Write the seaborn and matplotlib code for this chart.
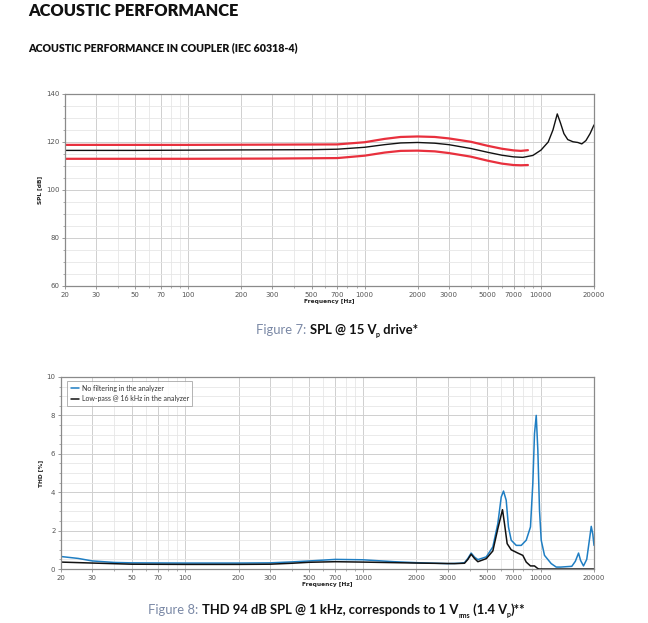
import matplotlib
matplotlib.use("Agg")
import matplotlib.pyplot as plt
import matplotlib.ticker as mticker
import seaborn as sns
import pandas as pd

# ---------------- data ----------------
spl_nom_f = [20, 50, 100, 200, 500, 700, 1000, 1300, 1600, 2000, 2500, 3000, 4000, 5000, 6000, 7000,
             7900, 9000, 10000, 11000, 11700, 12380, 12900, 13500, 14200, 15200, 16200, 17050, 18000,
             19000, 20000]
spl_nom = [116.5, 116.5, 116.6, 116.7, 116.8, 117.0, 117.8, 118.9, 119.6, 119.8, 119.5, 118.9, 117.3,
           115.7, 114.5, 113.8, 113.6, 114.4, 116.6, 120.0, 125.0, 131.7, 128.0, 123.5, 121.0, 120.1,
           119.8, 119.2, 120.6, 123.5, 127.1]
spl_hi_f = [20, 100, 300, 700, 1000, 1300, 1600, 2000, 2500, 3000, 4000, 5000, 6000, 7000, 7700, 8440]
spl_hi = [118.8, 118.8, 118.9, 119.0, 119.9, 121.3, 122.1, 122.3, 122.1, 121.5, 120.1, 118.4, 117.2,
          116.5, 116.3, 116.6]
spl_lo_f = [20, 100, 300, 700, 1000, 1300, 1600, 2000, 2500, 3000, 4000, 5000, 6000, 7000, 7700, 8440]
spl_lo = [113.0, 113.0, 113.1, 113.3, 114.3, 115.6, 116.3, 116.4, 116.1, 115.4, 113.9, 112.2, 111.0,
          110.4, 110.3, 110.4]

thd_blue_f = [20, 25, 30, 40, 50, 100, 200, 300, 400, 500, 700, 1000, 1500, 2000, 3000, 3500, 3735,
              3900, 4070, 4250, 4440, 4950, 5390, 5750, 6010, 6190, 6410, 6600, 6840, 7300, 7790, 8310,
              8780, 9050, 9250, 9460, 9660, 9870, 10090, 10530, 11490, 12260, 13000, 15000, 15700,
              16370, 16800, 17450, 18200, 18900, 19300, 19700, 20000]
thd_blue = [0.65, 0.55, 0.42, 0.34, 0.32, 0.31, 0.31, 0.32, 0.37, 0.42, 0.50, 0.48, 0.38, 0.33, 0.28,
            0.30, 0.33, 0.55, 0.83, 0.62, 0.49, 0.63, 1.15, 2.36, 3.75, 4.06, 3.58, 2.19, 1.50, 1.23,
            1.23, 1.50, 2.19, 4.45, 7.05, 8.00, 6.18, 3.06, 1.50, 0.71, 0.28, 0.10, 0.10, 0.14, 0.40,
            0.83, 0.45, 0.16, 0.50, 1.60, 2.22, 1.80, 1.23]
thd_black_f = [20, 30, 50, 100, 200, 300, 400, 500, 700, 1000, 2000, 3280, 3735, 3900, 4070, 4250,
               4440, 4950, 5390, 5750, 6110, 6270, 6490, 6840, 7450, 7950, 8310, 8780, 9250, 9660,
               9870, 20000]
thd_black = [0.36, 0.31, 0.25, 0.24, 0.24, 0.25, 0.30, 0.35, 0.38, 0.36, 0.31, 0.28, 0.30, 0.50, 0.77,
             0.55, 0.38, 0.54, 0.94, 2.10, 3.09, 2.36, 1.32, 1.00, 0.83, 0.71, 0.36, 0.16, 0.16, 0.02,
             0.0, 0.0]

xtick_vals = [20, 30, 50, 70, 100, 200, 300, 500, 700, 1000, 2000, 3000, 5000, 7000, 10000, 20000]
xgrid_minor = [40, 60, 80, 90, 400, 600, 800, 900, 4000, 6000, 8000, 9000]

legend_labels = ["No filtering in the analyzer", "Low-pass @ 16 kHz in the analyzer"]

RED = "#e8303d"
BLUE = "#1f7ec3"
BLACK = "#111111"

# ---------------- figure ----------------
sns.set_theme(style="white")
plt.rcParams["font.family"] = ["Lato", "DejaVu Sans"]

fig = plt.figure(figsize=(6.48, 6.23), dpi=100)
W, H = 648, 623


def ax_rect(l, t, r, b):
    return [l / W, 1 - b / H, (r - l) / W, (b - t) / H]


ax1 = fig.add_axes(ax_rect(65, 94, 594, 286))
ax2 = fig.add_axes(ax_rect(61, 377, 594, 569))


def style_axis(ax, ylim, ymajor, yminor, ylabel):
    ax.set_xscale("log")
    ax.set_xlim(20, 20000)
    ax.set_ylim(*ylim)
    ax.xaxis.set_major_locator(mticker.FixedLocator(xtick_vals))
    ax.xaxis.set_major_formatter(mticker.FixedFormatter([str(v) for v in xtick_vals]))
    ax.xaxis.set_minor_locator(mticker.FixedLocator(xgrid_minor))
    ax.xaxis.set_minor_formatter(mticker.NullFormatter())
    ax.yaxis.set_major_locator(mticker.MultipleLocator(ymajor))
    ax.yaxis.set_minor_locator(mticker.MultipleLocator(yminor))
    ax.grid(which="major", color="#cfcfcf", lw=0.7)
    ax.grid(which="minor", color="#e6e6e6", lw=0.6)
    ax.set_axisbelow(True)
    for s in ax.spines.values():
        s.set_color("#8a8a8a")
        s.set_linewidth(0.9)
    ax.tick_params(axis="both", which="major", labelsize=5.0, labelcolor="#555555",
                   length=2, width=0.6, color="#8a8a8a", pad=2, left=True, bottom=True)
    ax.tick_params(axis="both", which="minor", length=1.5, width=0.5, color="#8a8a8a",
                   left=True, bottom=True)
    for lab in ax.get_xticklabels() + ax.get_yticklabels():
        lab.set_family("DejaVu Sans")
    ax.set_xlabel("Frequency [Hz]", fontsize=4.2, fontweight="bold", color="#222222", labelpad=1,
                  family="DejaVu Sans")
    ax.set_ylabel(ylabel, fontsize=4.2, fontweight="bold", color="#222222", labelpad=2.5,
                  family="DejaVu Sans")


# SPL chart
sns.lineplot(x=spl_hi_f, y=spl_hi, ax=ax1, color=RED, lw=1.6, sort=False, estimator=None)
sns.lineplot(x=spl_lo_f, y=spl_lo, ax=ax1, color=RED, lw=1.6, sort=False, estimator=None)
sns.lineplot(x=spl_nom_f, y=spl_nom, ax=ax1, color=BLACK, lw=1.0, sort=False, estimator=None)
style_axis(ax1, (60, 140), 20, 5, "SPL [dB]")

# THD chart
df_thd = pd.concat([
    pd.DataFrame({"f": thd_blue_f, "v": thd_blue, "s": legend_labels[0]}),
    pd.DataFrame({"f": thd_black_f, "v": thd_black, "s": legend_labels[1]}),
])
sns.lineplot(data=df_thd, x="f", y="v", hue="s", palette=[BLUE, BLACK], ax=ax2, lw=1.1,
             sort=False, estimator=None)
style_axis(ax2, (0, 10), 2, 0.5, "THD [%]")
leg = ax2.legend(loc="upper left", fontsize=5.0, frameon=True, fancybox=False,
                 handlelength=1.2, handletextpad=0.4, borderpad=0.5, labelspacing=0.5,
                 bbox_to_anchor=(0.005, 0.995))
leg.get_frame().set_edgecolor("#a0a0a0")
leg.get_frame().set_linewidth(0.7)
for t in leg.get_texts():
    t.set_color("#333333")

# ---------------- titles ----------------
fig.text(28 / W, 1 - 11 / H, "ACOUSTIC PERFORMANCE", fontsize=11.8, fontweight="heavy",
         color="#111111", va="center", ha="left")
fig.text(28 / W, 1 - 48 / H, "ACOUSTIC PERFORMANCE IN COUPLER (IEC 60318-4)", fontsize=7.7,
         fontweight="heavy", color="#111111", va="center", ha="left")

renderer = fig.canvas.get_renderer()
GRAY = "#7b89a6"


def caption(y_px, pieces, size=9.4):
    # pieces: (text, color, kind) kind: 'n' normal, 'sub' subscript
    objs = []
    for txt, col, kind in pieces:
        fs = size * 0.55 if kind == "sub" else size
        dy = -3.5 if kind == "sub" else 0
        t = fig.text(0, 1 - (y_px - dy) / H, txt, fontsize=fs, color=col,
                     fontweight="normal" if col == GRAY else "bold", va="baseline", ha="left")
        objs.append(t)
    widths = [o.get_window_extent(renderer).width for o in objs]
    total = sum(widths)
    x = (W / 2 + 13) - total / 2
    for o, w in zip(objs, widths):
        o.set_x(x / W)
        x += w


caption(334, [("Figure 7: ", GRAY, "n"), ("SPL @ 15 V", "#111111", "n"), ("p", "#111111", "sub"),
              (" drive*", "#111111", "n")])
caption(614, [("Figure 8: ", GRAY, "n"), ("THD 94 dB SPL @ 1 kHz, corresponds to 1 V", "#111111", "n"),
              ("rms", "#111111", "sub"), (" (1.4 V", "#111111", "n"), ("p", "#111111", "sub"),
              (")**", "#111111", "n")])

fig.savefig("out.png", dpi=100)
